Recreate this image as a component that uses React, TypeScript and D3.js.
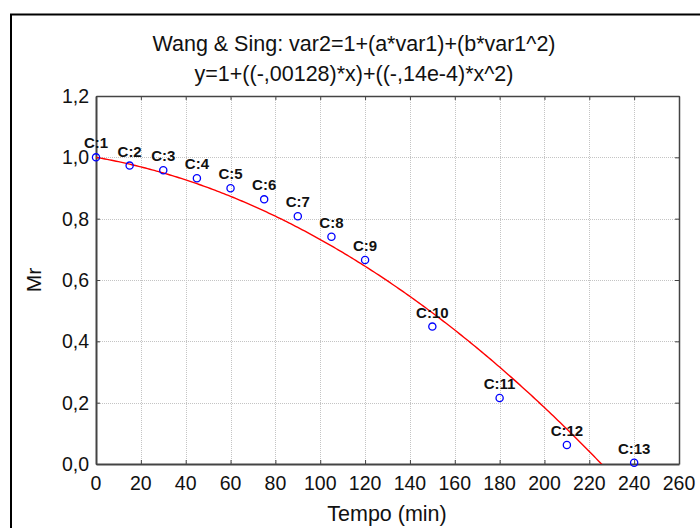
import React, { useEffect, useRef } from 'react'
import * as d3 from 'd3'

// observed points (Tempo, Mr)
const caseLabels = ['C:1', 'C:2', 'C:3', 'C:4', 'C:5', 'C:6', 'C:7', 'C:8', 'C:9', 'C:10', 'C:11', 'C:12', 'C:13']
const tempo = [0, 15, 30, 45, 60, 75, 90, 105, 120, 150, 180, 210, 240]
const mr = [1.0, 0.973, 0.958, 0.932, 0.899, 0.863, 0.808, 0.741, 0.665, 0.448, 0.215, 0.062, 0.004]

// fitted Wang & Sing model coefficients (from the title)
const coefA = -0.00128
const coefB = -0.14e-4

const xTicks = [0, 20, 40, 60, 80, 100, 120, 140, 160, 180, 200, 220, 240, 260]
const yTicks = [0, 0.2, 0.4, 0.6, 0.8, 1.0, 1.2]

const titleLines = ['Wang & Sing: var2=1+(a*var1)+(b*var1^2)', 'y=1+((-,00128)*x)+((-,14e-4)*x^2)']

function drawChart(el: SVGSVGElement) {
    const svg = d3.select(el)
    svg.selectAll('*').remove()

    const left = 96, right = 679, top = 96, bottom = 464
    const font = 'Arial, "Liberation Sans", sans-serif'

    const x = d3.scaleLinear().domain([0, 260]).range([left, right])
    const y = d3.scaleLinear().domain([0, 1.2]).range([bottom, top])

    // outer frame
    svg.append('path')
        .attr('d', `M11,540 V14.5 H720`)
        .attr('fill', 'none')
        .attr('stroke', '#000')
        .attr('stroke-width', 2)

    // titles
    svg.selectAll('text.title')
        .data(titleLines)
        .enter()
        .append('text')
        .attr('class', 'title')
        .attr('x', 354)
        .attr('y', (d, i) => 51 + i * 30)
        .attr('text-anchor', 'middle')
        .attr('font-family', font)
        .attr('font-size', 21.5)
        .attr('fill', '#111')
        .text(d => d)

    // grid
    const grid = svg.append('g')
        .attr('stroke', '#c4c4c4')
        .attr('stroke-width', 1)
        .attr('stroke-dasharray', '1,1')
    grid.selectAll('line.vx')
        .data(xTicks.slice(1, -1))
        .enter()
        .append('line')
        .attr('x1', d => Math.round(x(d)) + 0.5)
        .attr('x2', d => Math.round(x(d)) + 0.5)
        .attr('y1', top)
        .attr('y2', bottom)
    grid.selectAll('line.hy')
        .data(yTicks.slice(1, -1))
        .enter()
        .append('line')
        .attr('y1', d => Math.round(y(d)) + 0.5)
        .attr('y2', d => Math.round(y(d)) + 0.5)
        .attr('x1', left)
        .attr('x2', right)

    // axes
    const xAxisB = d3.axisBottom(x).tickValues(xTicks).tickSizeInner(-4).tickSizeOuter(0).tickFormat(() => '')
    const xAxisT = d3.axisTop(x).tickValues(xTicks).tickSizeInner(-4).tickSizeOuter(0).tickFormat(() => '')
    const yAxisL = d3.axisLeft(y).tickValues(yTicks).tickSizeInner(-4).tickSizeOuter(0).tickFormat(() => '')
    const yAxisR = d3.axisRight(y).tickValues(yTicks).tickSizeInner(-4).tickSizeOuter(0).tickFormat(() => '')

    const axes = [
        svg.append('g').attr('transform', `translate(0,${bottom})`).call(xAxisB),
        svg.append('g').attr('transform', `translate(0,${top})`).call(xAxisT),
        svg.append('g').attr('transform', `translate(${left},0)`).call(yAxisL),
        svg.append('g').attr('transform', `translate(${right},0)`).call(yAxisR),
    ]
    axes.forEach((g, i) => {
        g.selectAll('path, line').attr('stroke', '#444')
        g.select('path.domain').attr('stroke-width', i === 0 || i === 2 ? 2 : 1.5)
    })

    const fmt = (d: number) => d3.format('.1f')(d).replace('.', ',')

    svg.selectAll('text.xt')
        .data(xTicks)
        .enter()
        .append('text')
        .attr('class', 'xt')
        .attr('x', d => x(d))
        .attr('y', 490)
        .attr('text-anchor', 'middle')
        .attr('font-family', font)
        .attr('font-size', 19.5)
        .attr('fill', '#111')
        .text(d => d)

    svg.selectAll('text.yt')
        .data(yTicks)
        .enter()
        .append('text')
        .attr('class', 'yt')
        .attr('x', 89)
        .attr('y', d => y(d) + 7)
        .attr('text-anchor', 'end')
        .attr('font-family', font)
        .attr('font-size', 19.5)
        .attr('fill', '#111')
        .text(d => fmt(d))

    // axis titles
    svg.append('text')
        .attr('x', 387)
        .attr('y', 521)
        .attr('text-anchor', 'middle')
        .attr('font-family', font)
        .attr('font-size', 21.5)
        .attr('fill', '#111')
        .text('Tempo (min)')

    svg.append('text')
        .attr('transform', `translate(41,${(top + bottom) / 2}) rotate(-90)`)
        .attr('text-anchor', 'middle')
        .attr('font-family', font)
        .attr('font-size', 21)
        .attr('fill', '#111')
        .text('Mr')

    // fitted curve, clipped to plot
    svg.append('clipPath').attr('id', 'plotclip')
        .append('rect')
        .attr('x', left).attr('y', top)
        .attr('width', right - left).attr('height', bottom - top)

    const xs = d3.range(0, 260.5, 1)
    const line = d3.line<number>()
        .x(d => x(d))
        .y(d => y(1 + coefA * d + coefB * d * d))
    svg.append('path')
        .datum(xs)
        .attr('clip-path', 'url(#plotclip)')
        .attr('fill', 'none')
        .attr('stroke', '#ff0000')
        .attr('stroke-width', 1.4)
        .attr('d', line)

    // points
    svg.selectAll('circle.pt')
        .data(tempo)
        .enter()
        .append('circle')
        .attr('class', 'pt')
        .attr('cx', d => x(d))
        .attr('cy', (d, i) => y(mr[i]))
        .attr('r', 3.6)
        .attr('fill', 'none')
        .attr('stroke', '#0000ff')
        .attr('stroke-width', 1.3)

    svg.selectAll('text.lbl')
        .data(tempo)
        .enter()
        .append('text')
        .attr('class', 'lbl')
        .attr('x', d => x(d))
        .attr('y', (d, i) => y(mr[i]) - 9)
        .attr('text-anchor', 'middle')
        .attr('font-family', font)
        .attr('font-size', 15)
        .attr('font-weight', 'bold')
        .attr('fill', '#111')
        .text((d, i) => caseLabels[i])
}

const App = () => {
    const ref = useRef<SVGSVGElement>(null)
    useEffect(() => {
        if (ref.current) drawChart(ref.current)
    })
    return (
        <svg ref={ref} width={700} height={528}
            style={{ position: 'absolute', left: 0, top: 0, background: '#fff' }} />
    )
}

export default App
